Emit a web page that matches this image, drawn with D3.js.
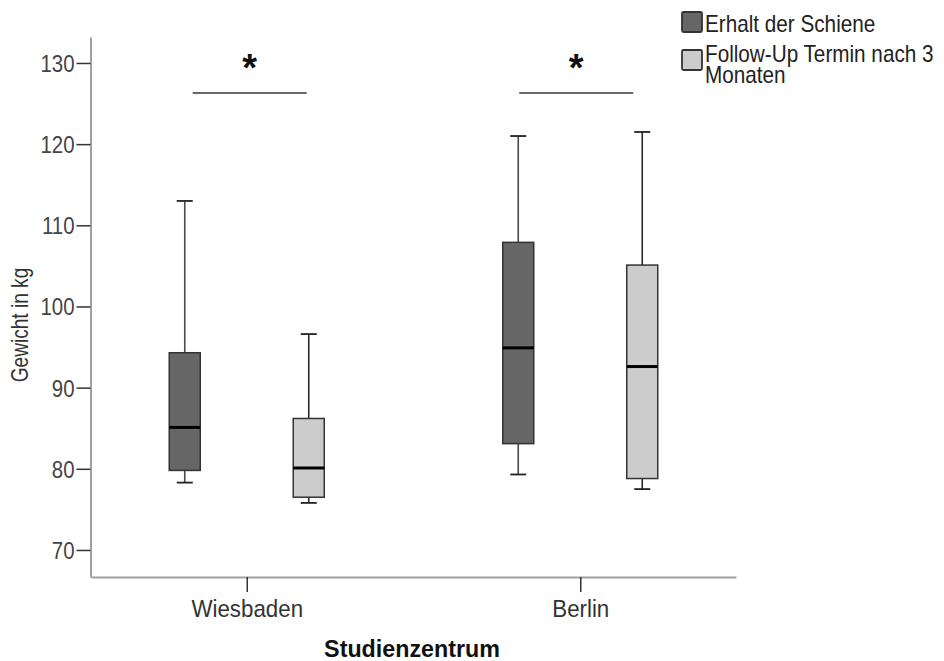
<!DOCTYPE html>
<html>
<head>
<meta charset="utf-8">
<script src="https://cdn.jsdelivr.net/npm/d3@7"></script>
<style>
  html, body { margin: 0; padding: 0; background: #fff; }
  svg { display: block; font-family: "Liberation Sans", Arial, sans-serif; }
</style>
</head>
<body>
<svg id="chart" width="944" height="661"></svg>
<script>
// Study centres on the x axis, and the two measurement time points
const centres = ["Wiesbaden", "Berlin"];
const timepoints = ["Erhalt der Schiene", "Follow-Up Termin nach 3 Monaten"];
const legendLines = [["Erhalt der Schiene"], ["Follow-Up Termin nach 3", "Monaten"]];

// Box statistics per centre: [min, Q1, median, Q3, max] in kg
const erhaltStats = [
  [78.3, 79.8, 85.1, 94.3, 113.0],
  [79.3, 83.1, 94.9, 107.9, 121.0]
];
const followUpStats = [
  [75.8, 76.5, 80.1, 86.2, 96.6],
  [77.5, 78.8, 92.6, 105.1, 121.5]
];

// Significance markers per centre and the height of their bracket (kg)
const significance = ["*", "*"];
const bracketLevel = 126.3;

const yTicks = [70, 80, 90, 100, 110, 120, 130];

const fills = ["#666666", "#cccccc"];

const svg = d3.select("#chart");

const x = d3.scalePoint().domain(centres).range([91, 736]).padding(0.467);
const sub = d3.scaleBand().domain(timepoints).range([-77.5, 77.5]).paddingInner(0.75).paddingOuter(0);
const y = d3.scaleLinear().domain([66.67, 133.2]).range([577, 37]);

// Text with a narrower set width, as the typeface used is slightly condensed
function label(parent, px, py, str, opts) {
  const o = Object.assign({ size: 23, sx: 0.885, anchor: "start", weight: "normal", rotate: 0, fill: "#333" }, opts || {});
  return parent.append("text")
    .attr("transform", `translate(${px},${py})` + (o.rotate ? ` rotate(${o.rotate})` : "") + ` scale(${o.sx},1)`)
    .attr("text-anchor", o.anchor)
    .attr("font-size", o.size)
    .attr("font-weight", o.weight)
    .attr("fill", o.fill)
    .text(str);
}

// Y axis
const yAxis = svg.append("g")
  .attr("transform", "translate(90.5,0)")
  .call(d3.axisLeft(y).tickValues(yTicks).tickSize(14).tickSizeOuter(0).tickFormat(d3.format("d")));
yAxis.select(".domain").attr("stroke", "#a0a0a0").attr("stroke-width", 2);
yAxis.selectAll(".tick line").attr("stroke", "#333").attr("stroke-width", 1.5);
yAxis.selectAll(".tick text")
  .attr("x", 0).attr("dy", 0)
  .attr("transform", "translate(-16,8.5) scale(0.85,1)")
  .attr("font-size", 24)
  .attr("font-family", "Liberation Sans, Arial, sans-serif")
  .attr("fill", "#444");

// X axis
const xAxis = svg.append("g")
  .attr("transform", "translate(0,577)")
  .call(d3.axisBottom(x).tickSize(15).tickSizeOuter(0));
xAxis.select(".domain").attr("stroke", "#a0a0a0").attr("stroke-width", 2);
xAxis.selectAll(".tick line").attr("stroke", "#333").attr("stroke-width", 1.5);
xAxis.selectAll(".tick text")
  .attr("y", 0).attr("dy", 0)
  .attr("transform", "translate(0,40) scale(0.93,1)")
  .attr("font-size", 24)
  .attr("font-family", "Liberation Sans, Arial, sans-serif")
  .attr("fill", "#333");

// Axis titles
label(svg, 412, 657, "Studienzentrum", { size: 24, sx: 0.97, anchor: "middle", weight: "bold", fill: "#111" });
label(svg, 28, 325, "Gewicht in kg", { size: 23, sx: 0.83, anchor: "middle", rotate: -90, fill: "#333" });

// Boxes
const series = [erhaltStats, followUpStats];
const capW = 16;
series.forEach((stats, si) => {
  const g = svg.append("g");
  stats.forEach((s, ci) => {
    const [mn, q1, med, q3, mx] = s;
    const cx = x(centres[ci]) + sub(timepoints[si]) + sub.bandwidth() / 2;
    const bw = sub.bandwidth();
    const wc = si === 0 ? "#4a4a4a" : "#2a2a2a";
    // whiskers
    g.append("line").attr("x1", cx).attr("x2", cx).attr("y1", y(q3)).attr("y2", y(mx))
      .attr("stroke", wc).attr("stroke-width", 1.6);
    g.append("line").attr("x1", cx).attr("x2", cx).attr("y1", y(q1)).attr("y2", y(mn))
      .attr("stroke", wc).attr("stroke-width", 1.6);
    g.append("line").attr("x1", cx - capW / 2).attr("x2", cx + capW / 2).attr("y1", y(mx)).attr("y2", y(mx))
      .attr("stroke", "#222").attr("stroke-width", 1.8);
    g.append("line").attr("x1", cx - capW / 2).attr("x2", cx + capW / 2).attr("y1", y(mn)).attr("y2", y(mn))
      .attr("stroke", "#222").attr("stroke-width", 1.8);
    // box
    g.append("rect")
      .attr("x", cx - bw / 2).attr("y", y(q3))
      .attr("width", bw).attr("height", y(q1) - y(q3))
      .attr("fill", fills[si]).attr("stroke", "#333").attr("stroke-width", 1.5);
    // median
    g.append("line").attr("x1", cx - bw / 2).attr("x2", cx + bw / 2).attr("y1", y(med)).attr("y2", y(med))
      .attr("stroke", "#000").attr("stroke-width", 3);
  });
});

// Significance brackets
centres.forEach((c, ci) => {
  const cx = x(c) + (ci === 0 ? 3 : -4);
  svg.append("line")
    .attr("x1", cx - 57).attr("x2", cx + 57)
    .attr("y1", y(bracketLevel)).attr("y2", y(bracketLevel))
    .attr("stroke", "#333").attr("stroke-width", 1.5);
  svg.append("text")
    .attr("x", cx).attr("y", y(bracketLevel) - 12)
    .attr("text-anchor", "middle")
    .attr("font-size", 38).attr("font-weight", "bold").attr("fill", "#111")
    .text(significance[ci]);
});

// Legend
const legend = svg.append("g");
const swatchTop = [12, 50];
const lineBase = [[32], [62, 83]];
timepoints.forEach((t, i) => {
  legend.append("rect")
    .attr("x", 682).attr("y", swatchTop[i]).attr("width", 20).attr("height", 20).attr("rx", 1.5)
    .attr("fill", fills[i]).attr("stroke", "#333").attr("stroke-width", 1.8);
  legendLines[i].forEach((ln, j) => {
    label(legend, 705, lineBase[i][j], ln, { size: 23, sx: 0.9, fill: "#222" });
  });
});
</script>
</body>
</html>
